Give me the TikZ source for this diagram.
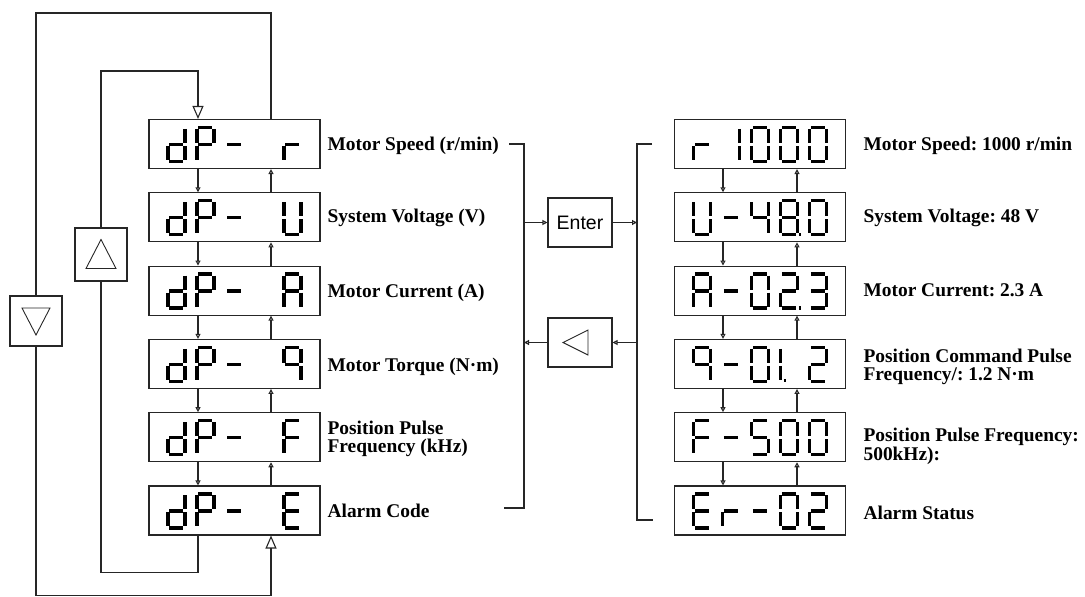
\documentclass[tikz,border=0pt]{standalone}
\usepackage{fontspec}
\setmainfont{Liberation Serif}
\setsansfont{Liberation Sans}
\frenchspacing
\usetikzlibrary{arrows.meta,positioning,calc}

% segments of one digit cell (20 x 37, y downwards)
\def\sga{(3,1.5)--(17,1.5)}
\def\sgb{(18.5,3)--(18.5,17)}
\def\sgc{(18.5,20)--(18.5,34)}
\def\sgd{(3,35.5)--(17,35.5)}
\def\sge{(1.5,20)--(1.5,34)}
\def\sgf{(1.5,3)--(1.5,17)}
\def\sgg{(3,18.5)--(17,18.5)}
\def\sgp{(20,35.5)--(22.5,35.5)}
\def\sgq{(5,35)--(7.5,35)}

% characters -> segments
\foreach \ch/\segs in {0/abcdef,1/bc,2/abdeg,3/abcdg,4/bcfg,5/acdfg,8/abcdefg,9/abcfg,
  A/abcefg,E/adefg,F/aefg,U/bcdef,P/abefg,d/bcdeg,r/eg,-/g,8./abcdefgp,2./abdegp,1./efq}
  {\expandafter\xdef\csname sv-\ch\endcsname{\segs}}
\expandafter\gdef\csname sv-x\endcsname{}

\newcommand\segwalk[1]{\ifx#1\relax\else
  \edef\segtmp{\noexpand\draw[seg] \csname sg#1\endcsname;}\segtmp
  \expandafter\segwalk\fi}

\tikzset{
  disp/.style={draw, minimum width=171pt, minimum height=49pt, inner sep=0pt},
  btn/.style={draw, inner sep=0pt, font=\sffamily\fontsize{19.5}{20}\selectfont},
  seg/.style={line width=3.2pt, draw=black},
  lbl/.style={anchor=base west, inner sep=0pt, align=left,
    font=\bfseries\fontsize{19.4}{17.5}\selectfont},
  small/.style={-{Triangle[open,length=5pt,width=5pt]}},
  big/.style={-{Triangle[open,length=13pt,width=11pt]}},
}

\begin{document}
\begin{tikzpicture}[x=1pt, y=-1pt, line width=1.1pt, draw=black!85]
	\useasboundingbox (0,0) rectangle (1085,597);
	% left column
	\foreach \row [count=\k] in {{d,P,-,x,r},{d,P,-,x,U},{d,P,-,x,A},{d,P,-,x,9},{d,P,-,x,F},{d,P,-,x,E}}{
		\node[disp] (L\k) at (234.5,{144+73.3*(\k-1)}) {};
		\foreach \dig [count=\i from 0] in \row {
			\begin{scope}[shift={(L\k.north west)}, shift={({18+29*\i},7)}]
				\edef\cc{\csname sv-\dig\endcsname}\expandafter\segwalk\cc\relax
			\end{scope}}
	}
	% right column
	\foreach \row [count=\k] in {{r,1,0,0,0},{U,-,4,8.,0},{A,-,0,2.,3},{9,-,0,1.,2},{F,-,5,0,0},{E,r,-,0,2}}{
		\node[disp] (R\k) at (760,{144+73.3*(\k-1)}) {};
		\foreach \dig [count=\i from 0] in \row {
			\begin{scope}[shift={(R\k.north west)}, shift={({18+29*\i},7)}]
				\edef\cc{\csname sv-\dig\endcsname}\expandafter\segwalk\cc\relax
			\end{scope}}
	}
	\foreach \k in {1,...,5}{
		\pgfmathtruncatemacro\n{\k+1}
		\draw[small] ([xshift=-36.5]L\k.south) -- ([xshift=-36.5]L\n.north);
		\draw[small] ([xshift=36.5]L\n.north) -- ([xshift=36.5]L\k.south);
		\draw[small] ([xshift=-37]R\k.south) -- ([xshift=-37]R\n.north);
		\draw[small] ([xshift=37]R\n.north) -- ([xshift=37]R\k.south);
	}
	% labels
	\node[lbl] (tl1) at ([xshift=6.5,yshift=-6.5]L1.east) {Motor Speed (r/min)};
	\node[lbl] (tl2) at ([xshift=6.5,yshift=-5.5]L2.east) {System Voltage (V)};
	\node[lbl] (tl3) at ([xshift=6.5,yshift=-7]L3.east) {Motor Current (A)};
	\node[lbl] (tl4) at ([xshift=6.5,yshift=-8]L4.east) {Motor Torque (N·m)};
	\node[lbl] (tl5) at ([xshift=6.5,yshift=-15]L5.east) {Position Pulse\\Frequency (kHz)};
	\node[lbl] (tl6) at ([xshift=6.5,yshift=-6.7]L6.east) {Alarm Code};
	\node[lbl] (tr1) at ([xshift=17,yshift=-6]R1.east) {Motor Speed: 1000 r/min};
	\node[lbl] (tr2) at ([xshift=17,yshift=-5.2]R2.east) {System Voltage: 48 V};
	\node[lbl] (tr3) at ([xshift=17,yshift=-5.5]R3.east) {Motor Current: 2.3 A};
	\node[lbl] (tr4) at ([xshift=17,yshift=-16.5]R4.east) {Position Command Pulse\\Frequency/: 1.2 N·m};
	\node[lbl] (tr5) at ([xshift=17,yshift=-23]R5.east) {Position Pulse Frequency:\\500kHz):};
	\node[lbl] (tr6) at ([xshift=17,yshift=-9]R6.east) {Alarm Status};
	% keys
	\node[btn, minimum width=64pt, minimum height=49pt] (enter) at (580,222.5) {Enter};
	\node[btn, minimum width=64pt, minimum height=49pt] (back) at (580,342.5) {};
	\node[btn, minimum width=52pt, minimum height=53pt] (up) at (101,254.5) {};
	\node[btn, minimum width=52pt, minimum height=50pt] (dn) at (36,321) {};
	\draw[line width=0.9pt] (back.center) ++(-17,0) -- ++(25,-12.5) -- ++(0,25) -- cycle;
	\draw[line width=0.9pt] (up.center) ++(0,-15) -- ++(15,29) -- ++(-30,0) -- cycle;
	\draw[line width=0.9pt] (dn.center) ++(0,14) -- ++(14,-27) -- ++(-28,0) -- cycle;
	% brackets
	\coordinate (bl) at (524,144); \coordinate (blb) at (524,508);
	\coordinate (br) at (637,144); \coordinate (brb) at (637,520);
	\draw ([xshift=-15]bl) -- (bl) -- (blb) -- ([xshift=-20]blb);
	\draw ([xshift=15]br) -- (br) -- (brb) -- ([xshift=16]brb);
	\draw[small] (enter.west -| bl) -- (enter.west);
	\draw[small] (enter.east) -- (enter.east -| br);
	\draw[small] (back.east -| br) -- (back.east);
	\draw[small] (back.west) -- (back.west -| bl);
	% loops
	\draw ([xshift=36.5]L1.north) -- ++(0,-106) -| (dn.north);
	\draw[big] (dn.south) -- ++(0,249) -| ([xshift=36.5]L6.south);
	\draw ([xshift=-36.5]L6.south) -- ++(0,37) -| (up.south);
	\draw[big] (up.north) |- ([xshift=-36.5,yshift=48]L1.north) -- ([xshift=-36.5]L1.north);
\end{tikzpicture}
\end{document}
